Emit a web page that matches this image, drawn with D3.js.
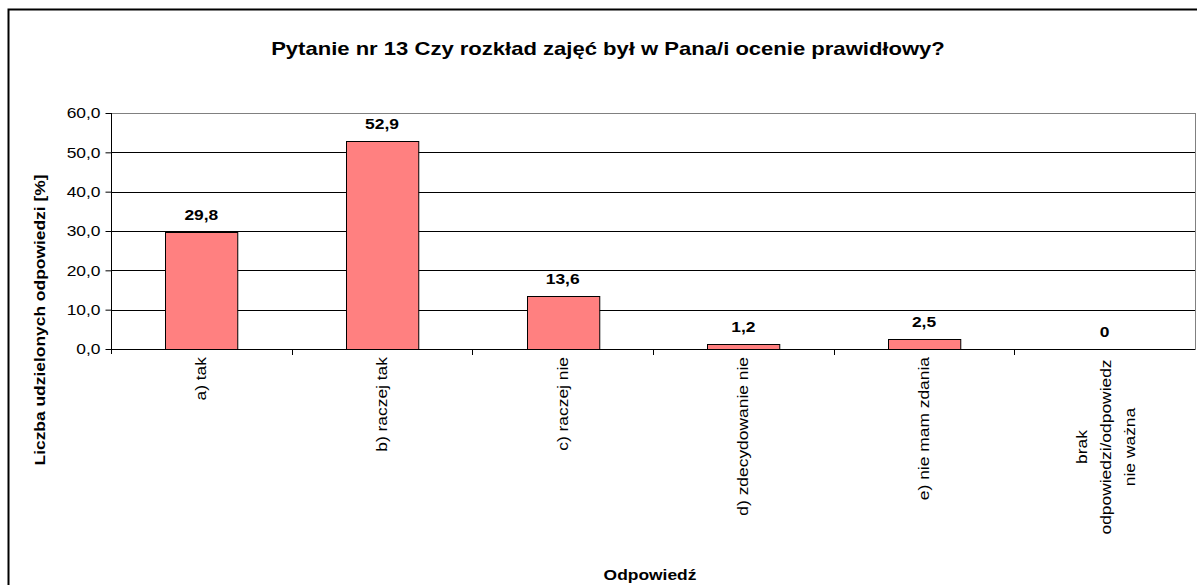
<!DOCTYPE html>
<html>
<head>
<meta charset="utf-8">
<script src="https://cdn.jsdelivr.net/npm/d3@7"></script>
<style>
  body { margin: 0; background: #fff; }
  text { font-family: "Liberation Sans", Arial, sans-serif; fill: #000; }
</style>
</head>
<body>
<div id="chart"></div>
<script>
// data
const categories = [
  "a) tak",
  "b) raczej tak",
  "c) raczej nie",
  "d) zdecydowanie nie",
  "e) nie mam zdania",
  "brak|odpowiedzi/odpowiedz|nie ważna"
];
const values = [29.8, 52.9, 13.6, 1.2, 2.5, 0];
const yTicks = [0, 10, 20, 30, 40, 50, 60];

const chartTitle = "Pytanie nr 13 Czy rozkład zajęć był w Pana/i ocenie prawidłowy?";
const yTitle = "Liczba udzielonych odpowiedzi [%]";
const xTitle = "Odpowiedź";

const W = 1197, H = 585;
const plot = { left: 111, right: 1195, top: 113, bottom: 349 };
const WIDEN = 1.16; // the original export has slightly wide glyphs

const svg = d3.select("#chart")
  .append("svg")
  .attr("width", W)
  .attr("height", H);

// stretch text along its baseline
function widen(sel, k) {
  sel.each(function () {
    const n = this.getComputedTextLength();
    d3.select(this)
      .attr("textLength", n * k)
      .attr("lengthAdjust", "spacingAndGlyphs");
  });
}

// outer chart border
svg.append("rect")
  .attr("x", 8.5).attr("y", 9.5)
  .attr("width", W).attr("height", H)
  .attr("fill", "none")
  .attr("stroke", "#000")
  .attr("stroke-width", 2);

const x = d3.scaleBand()
  .domain(categories)
  .range([plot.left, plot.right])
  .paddingInner(0.6)
  .paddingOuter(0.3);

const y = d3.scaleLinear().domain([0, 60]).range([plot.bottom, plot.top]);

const fmt = v => d3.format(".1f")(v).replace(".", ",");

// gridlines
svg.append("g")
  .selectAll("line")
  .data(yTicks.filter(d => d > 0 && d < 60))
  .join("line")
  .attr("x1", plot.left).attr("x2", plot.right)
  .attr("y1", d => Math.round(y(d)) + 0.5)
  .attr("y2", d => Math.round(y(d)) + 0.5)
  .attr("stroke", "#000");

// plot area frame (grey)
svg.append("rect")
  .attr("x", plot.left + 0.5).attr("y", Math.round(y(60)) + 0.5)
  .attr("width", plot.right - plot.left)
  .attr("height", Math.round(y(0)) - Math.round(y(60)))
  .attr("fill", "none")
  .attr("stroke", "#808080");

// bars
svg.append("g")
  .selectAll("rect")
  .data(values)
  .join("rect")
  .attr("x", (d, i) => Math.round(x(categories[i])) + 0.5)
  .attr("y", d => Math.round(y(d)) + 0.5)
  .attr("width", x.bandwidth())
  .attr("height", d => Math.round(y(0)) - Math.round(y(d)))
  .attr("fill", "#FF8080")
  .attr("stroke", "#000");

// value labels
svg.append("g")
  .selectAll("text")
  .data(values)
  .join("text")
  .attr("x", (d, i) => x(categories[i]) + x.bandwidth() / 2)
  .attr("y", d => y(d) - 12)
  .attr("text-anchor", "middle")
  .style("font-size", "15px")
  .style("font-weight", "bold")
  .text(d => d === 0 ? "0" : fmt(d))
  .call(widen, WIDEN);

// y axis
const yAxis = svg.append("g")
  .attr("transform", `translate(${plot.left + 0.5},0)`)
  .call(d3.axisLeft(y).tickValues(yTicks).tickFormat(fmt).tickSize(6).tickPadding(5));
yAxis.select(".domain").attr("d", `M0,${plot.top}V${plot.bottom + 5}`).attr("stroke", "#000");
yAxis.selectAll(".tick line").attr("stroke", "#000");
yAxis.selectAll(".tick text")
  .style("font-size", "15px")
  .style("font-family", "Liberation Sans, Arial, sans-serif")
  .attr("fill", "#000")
  .call(widen, WIDEN);

// x axis: line with ticks between categories
const boundaries = d3.range(1, categories.length)
  .map(i => plot.left + i * (plot.right - plot.left) / categories.length);
svg.append("line")
  .attr("x1", plot.left).attr("x2", plot.right)
  .attr("y1", Math.round(y(0)) + 0.5).attr("y2", Math.round(y(0)) + 0.5)
  .attr("stroke", "#000");
svg.append("g")
  .selectAll("line")
  .data(boundaries)
  .join("line")
  .attr("x1", d => Math.round(d) + 0.5).attr("x2", d => Math.round(d) + 0.5)
  .attr("y1", plot.bottom).attr("y2", plot.bottom + 6)
  .attr("stroke", "#000");

// category labels, rotated
const catG = svg.append("g")
  .selectAll("g")
  .data(categories)
  .join("g")
  .attr("transform", d => `translate(${x(d) + x.bandwidth() / 2},${plot.bottom + 8}) rotate(-90)`);

catG.each(function (d) {
  const lines = d.split("|");
  const g = d3.select(this);
  if (lines.length === 1) {
    g.append("text")
      .attr("x", 0).attr("y", 5)
      .attr("text-anchor", "end")
      .style("font-size", "15px")
      .text(d)
      .call(widen, WIDEN);
  } else {
    lines.forEach((l, i) => {
      g.append("text")
        .attr("x", -90)
        .attr("y", 6 + (i - (lines.length - 1) / 2) * 24)
        .attr("text-anchor", "middle")
        .style("font-size", "15px")
        .text(l)
        .call(widen, WIDEN);
    });
  }
});

// titles
svg.append("text")
  .attr("x", 608).attr("y", 55)
  .attr("text-anchor", "middle")
  .style("font-size", "19px")
  .style("font-weight", "bold")
  .text(chartTitle)
  .call(widen, WIDEN);

svg.append("text")
  .attr("transform", "translate(45,320) rotate(-90)")
  .attr("text-anchor", "middle")
  .style("font-size", "15px")
  .style("font-weight", "bold")
  .text(yTitle)
  .call(widen, WIDEN);

svg.append("text")
  .attr("x", 650).attr("y", 580)
  .attr("text-anchor", "middle")
  .style("font-size", "15px")
  .style("font-weight", "bold")
  .text(xTitle)
  .call(widen, WIDEN);
</script>
</body>
</html>
